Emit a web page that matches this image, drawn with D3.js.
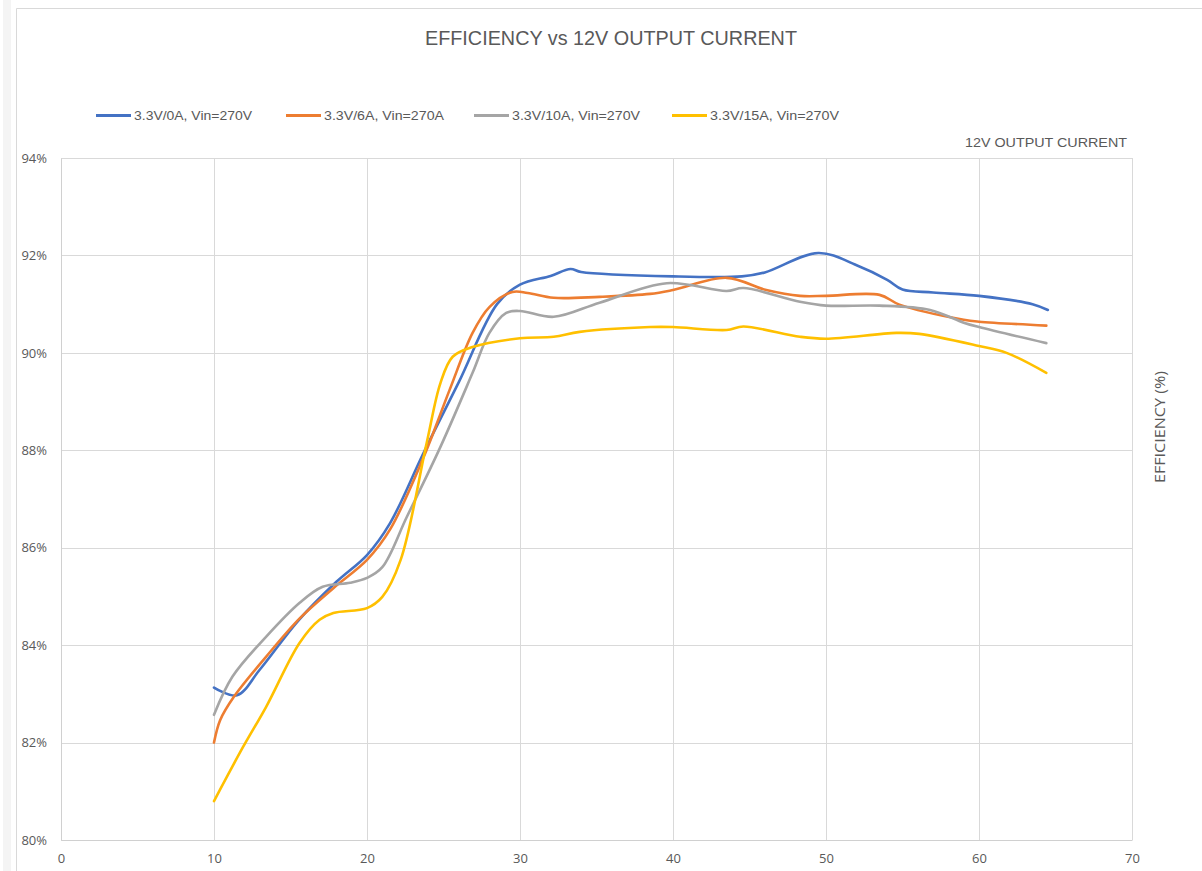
<!DOCTYPE html>
<html>
<head>
<meta charset="utf-8">
<script src="https://cdn.jsdelivr.net/npm/d3@7"></script>
<style>
  html, body { margin: 0; padding: 0; background: #fff; }
  svg { display: block; }
  text { font-family: "Liberation Sans Narrow", "Liberation Sans", Arial, sans-serif; fill: #595959; }
</style>
</head>
<body>
<svg id="chart" width="1202" height="871"></svg>
<script>
// ---- data ----
const title = "EFFICIENCY vs 12V OUTPUT CURRENT";
const xAxisTitle = "12V OUTPUT CURRENT";
const yAxisTitle = "EFFICIENCY (%)";
const seriesNames = ["3.3V/0A, Vin=270V", "3.3V/6A, Vin=270A", "3.3V/10A, Vin=270V", "3.3V/15A, Vin=270V"];
const seriesColors = ["#4472C4", "#ED7D31", "#A5A5A5", "#FFC000"];
const xTicks = [0, 10, 20, 30, 40, 50, 60, 70];
const yTicks = [0.80, 0.82, 0.84, 0.86, 0.88, 0.90, 0.92, 0.94];

const blueX   = [10, 11.5, 13, 15.5, 18, 20, 21.5, 23.7, 26, 28.5, 30, 32, 33.3, 34, 40, 44.5, 46, 49.5, 52, 54, 55, 57, 60, 63.5, 64.5];
const blueY   = [83.13, 82.97, 83.5, 84.5, 85.3, 85.85, 86.5, 87.95, 89.4, 91.0, 91.4, 91.58, 91.72, 91.66, 91.57, 91.57, 91.65, 92.05, 91.8, 91.5, 91.3, 91.24, 91.17, 91.0, 90.88];
const orangeX = [10, 10.4, 11.3, 13.4, 15.6, 17.8, 20, 21.5, 23.7, 25.4, 26.9, 28, 29.5, 30.5, 32.2, 35.2, 38.5, 40, 43.5, 46.1, 48.3, 50, 53.5, 54.8, 59, 60, 64.4];
const orangeY = [82.0, 82.46, 82.94, 83.76, 84.55, 85.17, 85.75, 86.37, 87.86, 89.24, 90.41, 90.94, 91.25, 91.23, 91.13, 91.15, 91.21, 91.29, 91.54, 91.29, 91.17, 91.17, 91.19, 90.99, 90.68, 90.64, 90.56];
const grayX   = [10, 11.2, 13.4, 15.6, 17.1, 18.9, 20, 21, 22.6, 24.8, 26.9, 28, 29.1, 30, 32.2, 35.2, 39.6, 43.5, 44.6, 48.3, 50, 53.5, 56.8, 59, 60, 64.4];
const grayY   = [82.57, 83.35, 84.17, 84.87, 85.2, 85.28, 85.38, 85.6, 86.63, 88.07, 89.59, 90.41, 90.82, 90.86, 90.74, 91.03, 91.43, 91.27, 91.33, 91.05, 90.97, 90.97, 90.88, 90.62, 90.53, 90.2];
const yellowX = [10, 11.9, 13.4, 15.6, 16.9, 17.8, 20, 21, 22.2, 23.9, 24.8, 25.6, 26.9, 30, 32.2, 33.9, 38.5, 40, 43.5, 44.6, 48.3, 50, 54.6, 56.1, 60, 61.8, 64.4];
const yellowY = [80.8, 81.91, 82.73, 84.05, 84.52, 84.66, 84.76, 84.99, 85.75, 88.15, 89.38, 89.92, 90.12, 90.3, 90.33, 90.43, 90.53, 90.53, 90.47, 90.54, 90.33, 90.29, 90.41, 90.39, 90.14, 90.0, 89.59];

const seriesX = [blueX, orangeX, grayX, yellowX];
const seriesY = [blueY, orangeY, grayY, yellowY];

// ---- layout ----
const svg = d3.select("#chart");
const plot = { left: 61, right: 1132, top: 158, bottom: 840 };

// chart frame
svg.append("rect").attr("x", 3).attr("y", 0).attr("width", 8).attr("height", 871).attr("fill", "#f4f4f4");
svg.append("path").attr("d", "M16.5,871 V8.5 H1202").attr("fill", "none").attr("stroke", "#d9d9d9").attr("stroke-width", 1);

const x = d3.scaleLinear().domain([0, 70]).range([plot.left, plot.right]);
const y = d3.scaleLinear().domain([0.80, 0.94]).range([plot.bottom, plot.top]);

// grid
const gGrid = svg.append("g");
gGrid.selectAll("line.h").data(yTicks).join("line")
  .attr("x1", plot.left).attr("x2", plot.right)
  .attr("y1", d => Math.round(y(d)) + 0.5).attr("y2", d => Math.round(y(d)) + 0.5)
  .attr("stroke", "#d9d9d9").attr("stroke-width", 1);
gGrid.selectAll("line.v").data(xTicks).join("line")
  .attr("y1", plot.top).attr("y2", plot.bottom)
  .attr("x1", d => Math.round(x(d)) + 0.5).attr("x2", d => Math.round(x(d)) + 0.5)
  .attr("stroke", "#d9d9d9").attr("stroke-width", 1);

// axes (labels only)
const xAxis = d3.axisBottom(x).tickValues(xTicks).tickSize(0).tickPadding(14);
const gx = svg.append("g").attr("transform", `translate(0,${plot.bottom})`).call(xAxis);
gx.select(".domain").attr("stroke", "#d0d0d0");
gx.selectAll("text").attr("font-size", 13).attr("fill", "#595959")
  .style("font-family", '"Open Sans", sans-serif');

const yAxis = d3.axisLeft(y).tickValues(yTicks).tickSize(0).tickPadding(14).tickFormat(d3.format(".0%"));
const gy = svg.append("g").attr("transform", `translate(${plot.left},0)`).call(yAxis);
gy.select(".domain").attr("stroke", "#d0d0d0");
gy.selectAll("text").attr("font-size", 13).attr("fill", "#595959")
  .style("font-family", '"Open Sans", sans-serif');

// series lines
const line = d3.line()
  .x(d => x(d[0]))
  .y(d => y(d[1] / 100))
  .curve(d3.curveCatmullRom.alpha(0.5));

seriesNames.forEach((name, i) => {
  const pts = seriesX[i].map((v, k) => [v, seriesY[i][k]]);
  svg.append("path")
    .datum(pts)
    .attr("d", line)
    .attr("fill", "none")
    .attr("stroke", seriesColors[i])
    .attr("stroke-width", 2.6)
    .attr("stroke-linecap", "round")
    .attr("stroke-linejoin", "round");
});

// title
svg.append("text")
  .attr("x", 611).attr("y", 45)
  .attr("text-anchor", "middle")
  .attr("font-size", 21)
  .attr("textLength", 372).attr("lengthAdjust", "spacingAndGlyphs")
  .text(title);

// legend
const legendPos = [96, 286, 474, 672];
const legendTextLen = [118, 120, 128, 129];
const legend = svg.append("g");
seriesNames.forEach((name, i) => {
  legend.append("line")
    .attr("x1", legendPos[i]).attr("x2", legendPos[i] + 35)
    .attr("y1", 115.5).attr("y2", 115.5)
    .attr("stroke", seriesColors[i]).attr("stroke-width", 3);
  legend.append("text")
    .attr("x", legendPos[i] + 38).attr("y", 120)
    .attr("font-size", 13)
    .attr("textLength", legendTextLen[i]).attr("lengthAdjust", "spacingAndGlyphs")
    .text(name);
});

// x axis title (top right)
svg.append("text")
  .attr("x", 1127).attr("y", 147)
  .attr("text-anchor", "end")
  .attr("font-size", 13)
  .attr("textLength", 162).attr("lengthAdjust", "spacingAndGlyphs")
  .text(xAxisTitle);

// y axis title (right, rotated)
svg.append("text")
  .attr("transform", "translate(1165,427) rotate(-90)")
  .attr("text-anchor", "middle")
  .attr("font-size", 14)
  .attr("textLength", 112).attr("lengthAdjust", "spacingAndGlyphs")
  .style("font-family", '"Open Sans", sans-serif')
  .text(yAxisTitle);
</script>
</body>
</html>
